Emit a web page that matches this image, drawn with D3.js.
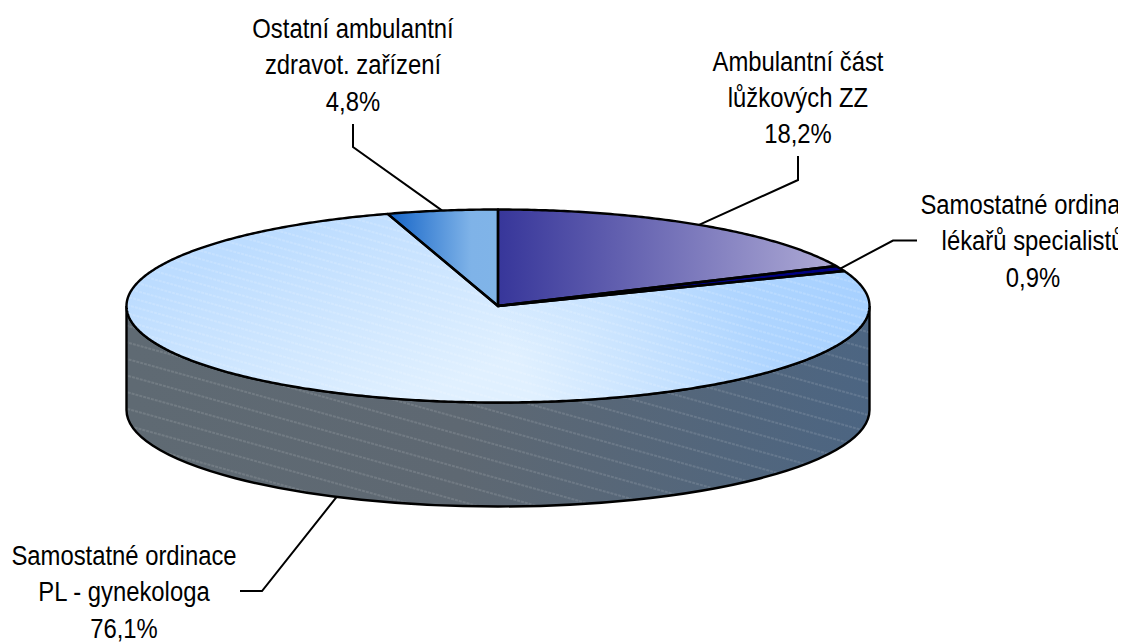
<!DOCTYPE html>
<html lang="en">
  <head>
    <script src="https://d3js.org/d3.v7.min.js"></script>
    <meta charset="UTF-8" />
    <title>Ambulantní péče</title>
    <style>
      html, body { margin: 0; padding: 0; background: #fff; overflow: hidden; }
      svg { display: block; }
      text { font-family: "Liberation Sans", Arial, sans-serif; font-size: 27.5px; fill: #000; }
    </style>
  </head>
  <body>
    <svg width="1122" height="642"></svg>
    <script>
      // values in chart order, clockwise from 12 o'clock
      const categories = [
        ["Ambulantní část", "lůžkových ZZ"],
        ["Samostatné ordinace", "lékařů specialistů"],
        ["Samostatné ordinace", "PL - gynekologa"],
        ["Ostatní ambulantní", "zdravot. zařízení"],
      ];
      const values = [18.2, 0.9, 76.1, 4.8];
      const valueLabels = ["18,2%", "0,9%", "76,1%", "4,8%"];

      var cx = 498, cy = 306, rx = 371.5, ry = 96.5, depth = 104;
      var lineH = 36.3, squeeze = 0.867;

      // label placement: text centre x, first baseline y, leader elbow, leader end
      const labelX = [798, 1033, 124, 353];
      const labelY = [70.5, 214, 565, 38];
      const elbowX = [798, 893, 262, 353];
      const elbowY = [180, 240.5, 591, 147];
      const endX = [798, 917, 240, 353];
      const endY = [156, 240.5, 591, 124];

      var svg = d3.select("svg");
      var defs = svg.append("defs");

      function grad(id, stops, x1, y1, x2, y2) {
        var g = defs.append("linearGradient").attr("id", id)
          .attr("gradientUnits", "userSpaceOnUse")
          .attr("x1", x1).attr("y1", y1).attr("x2", x2).attr("y2", y2);
        stops.forEach(function (s) {
          g.append("stop").attr("offset", s[0]).attr("stop-color", s[1])
            .attr("stop-opacity", s[2] === undefined ? 1 : s[2]);
        });
      }
      function hatch(id, gap, opacity, width) {
        var p = defs.append("pattern").attr("id", id)
          .attr("patternUnits", "userSpaceOnUse")
          .attr("width", 100).attr("height", gap)
          .attr("patternTransform", "rotate(15.5)");
        p.append("line").attr("x1", 0).attr("x2", 100)
          .attr("y1", gap / 2).attr("y2", gap / 2)
          .attr("stroke", "#fff").attr("stroke-width", width)
          .attr("stroke-opacity", opacity).attr("stroke-dasharray", "3 1");
      }
      grad("gAmb", [[0, "#37369a"], [1, "#b0acd6"]], cx, 0, 840, 0);
      grad("gOst", [[0, "#1766c8"], [0.75, "#7fb3e8"], [1, "#80b4e8"]], 390, 0, 498, 0);
      grad("gTop", [[0, "#bcdcff"], [1, "#e0f0ff"]], 320, 215, 400, 405);
      grad("gTopRight", [[0, "#a6d0ff"], [0.35, "#a6d0ff", 0.85], [1, "#a6d0ff", 0]], 860, 260, 540, 410);
      grad("gSide", [[0, "#5f6a73"], [0.45, "#5e6872"], [1, "#4c6582"]], cx - rx, 0, cx + rx, 0);
      hatch("hTop", 8, 0.3, 1);
      hatch("hSide", 16, 0.26, 0.9);

      const sliceFill = ["url(#gAmb)", "#000080", "url(#gTop)", "url(#gOst)"];

      var pie = d3.pie().sort(null);
      var arcs = pie(values);

      // side wall, front half of the ellipse
      var sidePath = "M" + (cx - rx) + "," + cy +
        "L" + (cx - rx) + "," + (cy + depth) +
        "A" + rx + "," + ry + " 0 0 0 " + (cx + rx) + "," + (cy + depth) +
        "L" + (cx + rx) + "," + cy +
        "A" + rx + "," + ry + " 0 0 1 " + (cx - rx) + "," + cy + "Z";
      svg.append("path").attr("d", sidePath).attr("fill", "url(#gSide)");
      svg.append("path").attr("d", sidePath).attr("fill", "url(#hSide)")
        .attr("stroke", "#000").attr("stroke-width", 2.4);

      // leader lines start on the rim at the slice's middle angle
      function rimPoint(d) {
        var a = (d.startAngle + d.endAngle) / 2;
        var y = cy - ry * Math.cos(a);
        if (Math.cos(a) < 0) y += depth;
        return [cx + rx * Math.sin(a), y];
      }
      svg.append("g").selectAll("path").data(arcs).enter().append("path")
        .attr("fill", "none").attr("stroke", "#000").attr("stroke-width", 2)
        .attr("d", function (d, i) {
          return d3.line()([rimPoint(d), [elbowX[i], elbowY[i]], [endX[i], endY[i]]]);
        });

      // slices squashed onto the ellipse, gradients are in page coordinates
      function slicePath(d) {
        var pts = [[cx, cy]];
        var n = Math.ceil((d.endAngle - d.startAngle) / 0.01);
        d3.range(n + 1).forEach(function (k) {
          var a = d.startAngle + (d.endAngle - d.startAngle) * k / n;
          pts.push([cx + rx * Math.sin(a), cy - ry * Math.cos(a)]);
        });
        return d3.line()(pts) + "Z";
      }
      svg.append("g").selectAll("path").data(arcs).enter().append("path")
        .attr("d", slicePath)
        .attr("fill", function (d, i) { return sliceFill[i]; });
      svg.append("path").attr("d", slicePath(arcs[2])).attr("fill", "url(#gTopRight)");
      svg.append("path").attr("d", slicePath(arcs[2])).attr("fill", "url(#hTop)");
      svg.append("g").selectAll("path").data(arcs).enter().append("path")
        .attr("d", slicePath)
        .attr("fill", "none").attr("stroke", "#000").attr("stroke-width", 2.4)
        .attr("stroke-linejoin", "round");

      // labels, the right one is cut off at the chart edge in the original
      defs.append("clipPath").attr("id", "edge").append("rect")
        .attr("x", 0).attr("y", 0).attr("width", 1118).attr("height", 642);
      var labels = svg.append("g").attr("clip-path", "url(#edge)");
      categories.forEach(function (c, i) {
        var lines = c.concat([valueLabels[i]]);
        lines.forEach(function (t, j) {
          labels.append("text")
            .attr("transform", "translate(" + labelX[i] + "," + (labelY[i] + j * lineH) + ") scale(" + squeeze + ",1)")
            .attr("text-anchor", "middle").text(t);
        });
      });
    </script>
  </body>
</html>
